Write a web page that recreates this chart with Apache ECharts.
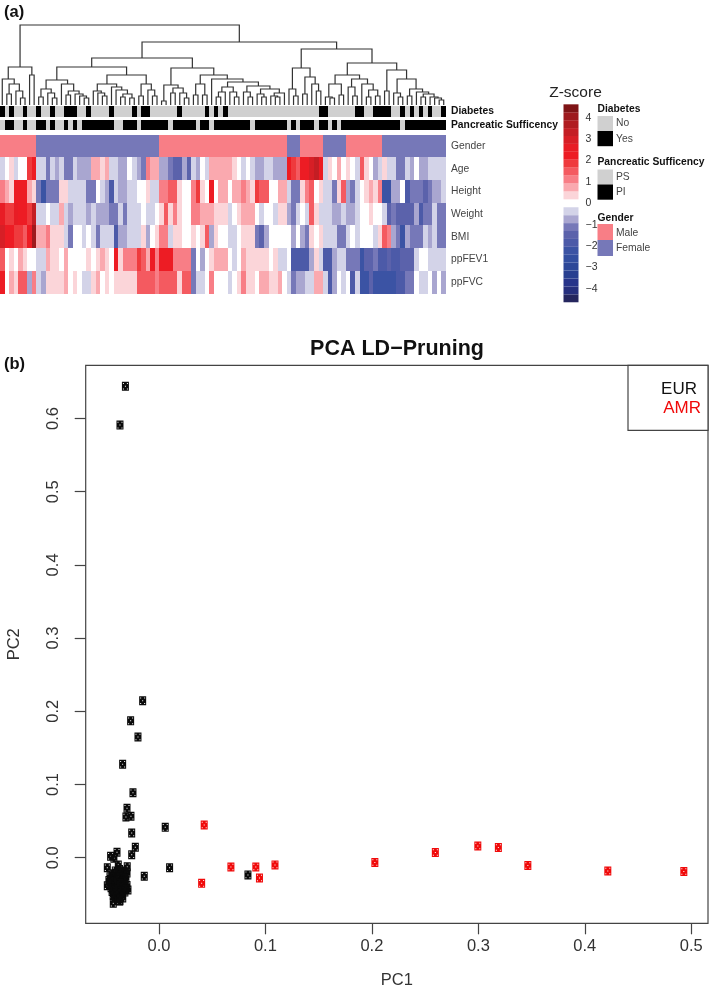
<!DOCTYPE html>
<html><head><meta charset="utf-8">
<style>html,body{margin:0;padding:0;background:#fff}#c{width:709px;height:992px}</style>
<script src="https://cdn.jsdelivr.net/npm/echarts@6/dist/echarts.min.js"></script>
</head><body><div id="c"></div>
<script>
// ---------- (a) heatmap data: z-score bin number per patient (bin width zStep) ----------
const zStep = 0.37;
const rowNames = ['Gender','Age','Height','Weight','BMI','ppFEV1','ppFVC'];
const ageBins = [-1,0,1,-1,0,0,5,6,-1,-1,-3,-1,-2,-1,-3,-3,-1,-2,-2,-2,2,2,1,2,-1,-1,-2,-2,0,-1,-2,-3,3,2,2,-2,-2,-3,-4,-4,-2,-4,-1,-2,0,-1,2,2,2,2,
 2,1,0,-1,0,-1,-2,-2,-1,-1,-2,-2,-2,6,5,4,6,6,8,9,6,-1,1,0,2,
 0,1,0,-1,4,1,0,-2,-1,1,-1,-1,-3,-3,-1,-2,0,-2,-2,-1,-1,-1,-1];
const heightBins = [3,2,1,6,6,6,2,1,-3,-6,-3,-3,-3,1,1,-1,-1,-1,-1,-3,-3,0,-1,-2,-5,-1,-2,-2,-1,-1,0,0,1,-1,-1,3,3,4,4,1,0,0,3,5,1,0,6,0,2,2,
 0,2,2,3,2,1,5,4,4,0,0,2,2,-1,-3,-3,1,3,4,0,1,-1,-1,-3,1,
 4,-2,-3,-1,0,1,2,1,3,-6,-6,-2,-2,0,-5,-3,-3,-3,-4,-3,-2,-2,-1];
const weightBins = [7,5,5,7,6,6,5,9,-1,-1,0,-1,-1,2,-1,-2,-1,-1,-1,-2,-1,-2,-2,-2,-3,-3,-1,-3,-1,-1,-1,0,-1,-1,0,1,4,1,3,1,0,0,3,3,2,2,2,1,1,1,
 -1,0,1,2,2,2,0,-1,0,0,-1,1,1,-2,-3,-1,0,-1,4,1,-1,-1,-1,-2,-2,
 -1,-2,-2,-1,0,0,1,0,0,-1,-4,-3,-4,-4,-4,-4,-2,-5,-3,-3,-1,-3,-3];
const bmiBins = [8,6,6,5,5,4,6,11,2,2,3,1,1,1,-1,-3,0,0,-1,0,-1,-3,-1,-1,-1,-5,-2,-2,-1,-1,-1,1,-2,0,1,3,3,-1,1,1,0,0,1,0,1,4,-2,1,0,0,
 -1,-1,0,1,1,1,-3,-4,-2,0,0,0,0,0,-2,0,-2,-3,1,0,1,-1,-1,-1,-3,
 -3,-1,0,-1,0,0,0,-1,1,4,3,-2,-3,-6,-2,-3,-3,-3,-1,-2,-1,-3,-3];
const fev1Bins = [4,0,1,0,2,1,0,0,-1,-1,2,1,1,0,2,0,0,0,0,1,0,1,2,1,0,6,1,3,3,3,5,4,2,6,3,6,6,6,3,3,3,3,-3,0,-2,0,1,2,2,2,
 0,-1,0,2,1,1,1,1,1,0,1,-1,-1,0,-5,-5,-5,-5,-2,1,-1,-5,-5,-2,-1,
 -1,-3,-3,-3,-6,-4,-4,-3,-5,-5,-4,-5,-5,-4,-4,-4,-1,0,0,-1,-1,-1,-1];
const fvcBins = [6,0,2,1,4,4,-2,3,-1,-2,1,1,1,1,2,0,1,0,-1,-1,1,2,0,1,0,1,1,1,1,1,4,4,4,4,3,4,4,4,4,1,4,4,-3,-1,-1,0,3,0,0,0,
 -1,0,1,3,1,1,0,2,2,1,1,2,0,-1,-3,-2,-2,-1,-1,2,2,-1,-5,-2,0,
 -1,0,-5,-1,-6,-6,-4,-6,-6,-6,-6,-6,-5,-5,-3,-3,0,-1,-1,0,-2,0,-2];
// gender as [code, number of patients] in column order
const genderRuns = [['M',8],['F',27],['M',28],['F',3],['M',5],['F',5],['M',8],['F',14]];
// columns that are black in the two annotation strips
const diabetesYes = [0,2,5,8,11,14,15,16,19,24,29,31,32,39,45,47,49,70,71,78,79,82,83,84,85,88,90,92,94,97];
const pancreaticPI = [1,2,5,8,9,11,14,16,18,19,20,21,22,23,24,27,28,29,31,32,33,34,35,36,38,39,40,41,42,44,45,47,48,49,50,51,52,53,54,56,57,58,59,60,61,62,64,66,67,68,70,71,73,75,76,77,78,79,80,81,82,83,84,85,86,87,89,90,91,92,93,94,95,96,97];
const binColors = {'-12':'#25265e','-11':'#262f7d','-10':'#27348a','-9':'#283f90','-8':'#2c4798','-7':'#324ea0','-6':'#3b53a4','-5':'#4c5aa8','-4':'#5b62ab','-3':'#7678b8','-2':'#a9a6d0','-1':'#d3d3e8','0':'#ffffff','1':'#fbd5d9','2':'#faa9af','3':'#f87e86','4':'#f45a60','5':'#ef3a3d','6':'#ed1c24','7':'#e81d25','8':'#d71f26','9':'#c41e24','10':'#b01c20','11':'#9e1a1e','12':'#7f1416'};
const zTicks = [-4,-3,-2,-1,0,1,2,3,4];

// dendrogram: [merge height, left, right]; 0 is a leaf, leaves run in column order
const treeLeft = [38,[26,0,[21,[11,0,0],[14,0,[7,0,0]]]],[30,0,0]];
const treeX1 = [25,[16,[8,0,0],[12,0,[7,0,0]]],[21,0,[14,[10,0,0],[11,0,[9,0,[7,0,0]]]]]];
const treeX2 = [30,[21,[14,0,[12,0,[9,0,0]]],[18,0,[15,0,[11,[8,0,0],[7,0,0]]]]],[21,[9,0,0],[15,0,[9,0,0]]]];
const treeY1 = [20,[4,0,0],[17,[12,0,0],[12,0,[7,0,0]]]];
const treeY2 = [30,[21,[10,0,0],[10,0,0]],[26,0,[23,[18,[13,[8,0,0],0],[13,0,[8,0,0]]],[19,[13,0,[8,0,0]],[16,[11,0,[8,0,0]],[12,[9,0,[8,0,0]],0]]]]]];
const treeZ1 = [37,[16,0,[9,0,0]],[28,[11,0,0],[21,0,[14,0,0]]]];
const treeZ2 = [42,[30,[21,[8,0,[7,0,0]],[10,0,0]],[26,[18,0,[9,0,0]],[21,0,[15,[8,0,0],[9,0,0]]]]],
 [35,[14,0,0],[26,[12,0,[8,0,0]],[16,[9,0,0],[13,0,[11,[8,0,0],[8,0,[7,0,[5,0,0]]]]]]]]];
const dendrogram = [80,treeLeft,[63,[47,[38,treeX1,treeX2],[37,treeY1,treeY2]],[56,treeZ1,treeZ2]]];

// ---------- (b) PCA data ----------
const xTicks = [0,0.1,0.2,0.3,0.4,0.5];
const yTicks = [0,0.1,0.2,0.3,0.4,0.5,0.6];
const eurPC1 = [-0.0315,-0.0366,-0.0153,-0.0266,-0.0197,-0.0341,-0.0244,-0.03,-0.0263,-0.031,-0.0256,0.0059,-0.0222,-0.0256,0.01,-0.0138,-0.0394,-0.0454,-0.0423,-0.0485,-0.0382,-0.0298,-0.0429,-0.0485,-0.0291,-0.0366,0.0836,
 -0.041,-0.037,-0.033,-0.044,-0.04,-0.036,-0.032,-0.03,-0.046,-0.042,-0.038,-0.034,-0.031,-0.047,-0.043,-0.039,-0.035,-0.032,-0.046,-0.041,-0.037,-0.033,-0.03,-0.045,-0.041,-0.038,-0.034,-0.031,-0.044,-0.04,-0.036,-0.032,-0.043,-0.039,-0.035,-0.042,-0.038,-0.034,-0.037];
const eurPC2 = [0.644,0.591,0.2145,0.187,0.165,0.1276,0.0888,0.0675,0.0566,0.0556,0.0337,0.0415,0.0142,0.0041,-0.0137,-0.0254,0.0074,0.002,-0.0008,-0.0137,-0.01,-0.0123,-0.0623,-0.0383,-0.0441,-0.0587,-0.0235,
 -0.018,-0.016,-0.018,-0.022,-0.022,-0.021,-0.023,-0.021,-0.026,-0.027,-0.026,-0.027,-0.028,-0.031,-0.032,-0.03,-0.032,-0.033,-0.036,-0.036,-0.035,-0.037,-0.038,-0.041,-0.041,-0.04,-0.042,-0.043,-0.046,-0.046,-0.046,-0.047,-0.051,-0.051,-0.052,-0.055,-0.056,-0.055,-0.059];
const amrPC1 = [0.0425,0.0401,0.0676,0.091,0.0944,0.109,0.2028,0.2596,0.2995,0.3188,0.3465,0.4216,0.493];
const amrPC2 = [0.0447,-0.035,-0.0127,-0.0127,-0.0277,-0.0098,-0.0066,0.0071,0.016,0.0139,-0.0107,-0.0182,-0.0189];

// ---------- helpers ----------
const FONT = '"Liberation Sans", Arial, sans-serif';
const nCols = ageBins.length;
const colIndex = Array.from({length:nCols},(_,i)=>i);
const genderCol = genderRuns.flatMap(([g,n])=>Array(n).fill(g));

const treeSegments = [];
let leafCursor = 0;
function walk(node){
  if(node===0){ return {x:(leafCursor++)+0.5,h:0}; }
  const a = walk(node[1]), b = walk(node[2]);
  treeSegments.push([a.x,a.h,b.x,b.h,node[0]]);
  return {x:(a.x+b.x)/2,h:node[0]};
}
walk(dendrogram);

const BLACK=20, GRAY=21;
const cellColors = Object.assign({},binColors,{[BLACK]:'#000000',[GRAY]:'#d0d0d0'});
const stripData = yes => colIndex.map(i=>[i,0,yes.includes(i)?BLACK:GRAY]);
const rowsData = [];
genderCol.forEach((g,i)=>rowsData.push([i,0,g==='M'?3:-3]));
[ageBins,heightBins,weightBins,bmiBins,fev1Bins,fvcBins].forEach((r,j)=>r.forEach((v,i)=>rowsData.push([i,j+1,v])));
const barBins = Object.keys(binColors).map(Number);

function cellRender(p,api){
  const i=api.value(0), j=api.value(1), v=api.value(2);
  const a=api.coord([i,j]), b=api.coord([i+1,j]), bandH=api.size([0,1])[1];
  const x0=Math.round(a[0]), x1=Math.round(b[0]);
  const y0=Math.round(a[1]-bandH/2), y1=Math.round(a[1]+bandH/2);
  return {type:'rect',shape:{x:x0,y:y0,width:x1-x0,height:y1-y0},style:{fill:cellColors[v]}};
}
const cellSeries = (ax,data)=>({type:'custom',xAxisIndex:ax,yAxisIndex:ax,silent:true,clip:false,renderItem:cellRender,data,
   encode:{x:0,y:1}});

const pointPath = 'path://M0,0H70V90H0Z M10,12V22H20V12Z M50,12V22H60V12Z M30,40V50H40V40Z M10,68V78H20V68Z M50,68V78H60V68Z';
const colAxis = gi=>({type:'value',gridIndex:gi,min:0,max:nCols,show:false,axisLine:{onZero:false}});
const rowYAxis = (data,gi,bold)=>({type:'category',data,gridIndex:gi,inverse:true,position:'right',
  axisLine:{show:false,onZero:false},axisTick:{show:false},
  axisLabel:{interval:0,margin:5,align:'left',color:bold?'#111':'#444',fontFamily:FONT,fontSize:10.3,fontWeight:bold?'bold':'normal'}});

const GRID = {outerBoundsMode:'none',containLabel:false};
const option = {
  animation:false,
  backgroundColor:'#fff',
  title:{text:'PCA LD\u2212Pruning',left:392,top:333,textAlign:'center',
    textStyle:{fontFamily:FONT,fontSize:21.5,fontWeight:'bold',color:'#111'}},
  grid:[
    {...GRID,left:0,width:446,top:20,height:85},            // 0 dendrogram
    {...GRID,left:0,width:446,top:106,height:10.5},         // 1 diabetes
    {...GRID,left:0,width:446,top:119.5,height:10.5},       // 2 pancreatic
    {...GRID,left:0,width:446,top:134.6,height:159},        // 3 heat rows
    {...GRID,left:563.5,width:15,top:96.3,height:214},      // 4 colour bar
    {...GRID,left:85.7,width:622.3,top:365.3,height:558,show:true,borderColor:'#444',borderWidth:1.2} // 5 PCA
  ],
  xAxis:[
    colAxis(0),colAxis(1),colAxis(2),colAxis(3),
    {type:'value',gridIndex:4,min:0,max:1,show:false,axisLine:{onZero:false}},
    {type:'value',gridIndex:5,min:-0.0688,max:0.5157,splitLine:{show:false},
      name:'PC1',nameLocation:'middle',nameGap:49,nameTextStyle:{fontFamily:FONT,fontSize:16.5,color:'#333'},
      axisLine:{show:false,onZero:false},
      axisTick:{length:11,customValues:xTicks,lineStyle:{color:'#444',width:1.2}},
      axisLabel:{customValues:xTicks,margin:15,fontFamily:FONT,fontSize:16.5,color:'#333',formatter:v=>v.toFixed(1)}}
  ],
  yAxis:[
    {type:'value',gridIndex:0,min:0,max:85,show:false},
    rowYAxis(['Diabetes'],1,true),
    rowYAxis(['Pancreatic Sufficency'],2,true),
    rowYAxis(rowNames,3,false),
    {type:'value',gridIndex:4,min:-5,max:5,position:'right',splitLine:{show:false},
      axisLine:{show:false,onZero:false},axisTick:{show:false},
      axisLabel:{customValues:zTicks,margin:7,align:'left',fontFamily:FONT,fontSize:10.5,color:'#333',
        formatter:v=>v<0?'\u2212'+Math.abs(v):String(v)}},
    {type:'value',gridIndex:5,min:-0.0896,max:0.6727,splitLine:{show:false},
      name:'PC2',nameLocation:'middle',nameGap:63,nameTextStyle:{fontFamily:FONT,fontSize:16.5,color:'#333'},
      axisLine:{show:false,onZero:false},
      axisTick:{length:11,customValues:yTicks,lineStyle:{color:'#444',width:1.2}},
      axisLabel:{customValues:yTicks,rotate:90,margin:24,fontFamily:FONT,fontSize:16.5,color:'#333',formatter:v=>v.toFixed(1)}}
  ],
  series:[
    {type:'custom',xAxisIndex:0,yAxisIndex:0,silent:true,clip:false,data:treeSegments,
      renderItem:(p,api)=>{
        const xl=api.value(0),hl=api.value(1),xr=api.value(2),hr=api.value(3),h=api.value(4);
        return {type:'polyline',shape:{points:[api.coord([xl,hl]),api.coord([xl,h]),api.coord([xr,h]),api.coord([xr,hr])]},
          style:{stroke:'#333',lineWidth:1.2,fill:null}};
      }},
    cellSeries(1,stripData(diabetesYes)),
    cellSeries(2,stripData(pancreaticPI)),
    cellSeries(3,rowsData),
    {type:'custom',xAxisIndex:4,yAxisIndex:4,silent:true,data:barBins.map(b=>[0.5,b*zStep,b]),
      renderItem:(p,api)=>{
        const z=api.value(1),b=api.value(2);
        const a=api.coord([0,z+zStep/2]), c=api.coord([1,z-zStep/2]);
        return {type:'rect',shape:{x:a[0],y:a[1],width:c[0]-a[0],height:c[1]-a[1]},style:{fill:binColors[b]}};
      }},
    {type:'scatter',xAxisIndex:5,yAxisIndex:5,silent:true,symbol:pointPath,symbolSize:[7,9],
      itemStyle:{color:'#0a0a0a',opacity:1},data:eurPC1.map((x,i)=>[x,eurPC2[i]])},
    {type:'scatter',xAxisIndex:5,yAxisIndex:5,silent:true,symbol:pointPath,symbolSize:[7,9],
      itemStyle:{color:'#f00a0a',opacity:1},data:amrPC1.map((x,i)=>[x,amrPC2[i]])}
  ],
  graphic:{elements:[
    {type:'text',left:4,top:4,style:{text:'(a)',font:'bold 16.5px '+FONT,fill:'#111'}},
    {type:'text',left:4,top:356,style:{text:'(b)',font:'bold 16.5px '+FONT,fill:'#111'}},
    {type:'text',x:575.5,y:93,style:{text:'Z-score',font:'15.5px '+FONT,fill:'#222',align:'center',verticalAlign:'middle'}},
    ...[['Diabetes',108.7,true],['No',123.6],['Yes',139],['Pancreatic Sufficency',161.7,true],['PS',177],['PI',192],['Gender',217.7,true],['Male',233],['Female',248]].map(([t,y,b])=>
      ({type:'text',x:b?597.5:616,y,style:{text:t,font:(b?'bold 10.3px ':'10.3px ')+FONT,fill:b?'#111':'#444',verticalAlign:'middle'}})),
    ...[[116,'#d0d0d0'],[131,'#000'],[169.5,'#d0d0d0'],[184.5,'#000'],[224,binColors[3]],[240,binColors[-3]]].map(([y,c])=>
      ({type:'rect',shape:{x:597.5,y,width:15.5,height:y===224||y===240?16:15.2},style:{fill:c}})),
    {type:'rect',shape:{x:628,y:365.3,width:80,height:65},style:{fill:'#fff',stroke:'#444',lineWidth:1.2}},
    {type:'text',x:697,y:389,style:{text:'EUR',font:'17px '+FONT,fill:'#111',align:'right',verticalAlign:'middle'}},
    {type:'text',x:701,y:408.5,style:{text:'AMR',font:'17px '+FONT,fill:'#f00a0a',align:'right',verticalAlign:'middle'}}
  ]}
};
const chart = echarts.init(document.getElementById('c'),null,{renderer:'canvas',width:709,height:992});
chart.setOption(option);
</script></body></html>
